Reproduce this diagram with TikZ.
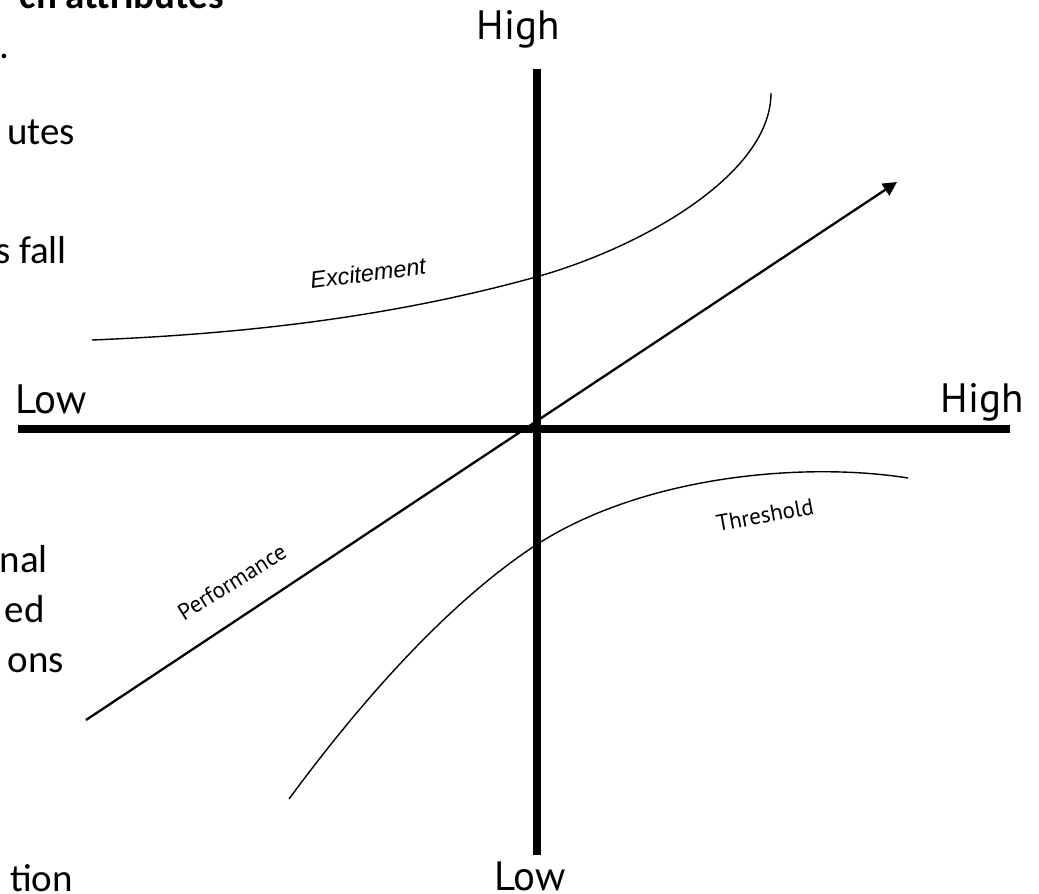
\documentclass[tikz,border=0pt]{standalone}
\usepackage{fontspec}
\setmainfont{PT Sans}
\newfontfamily\labfont{PT Sans}
\newfontfamily\itfont{Liberation Sans}
\newfontfamily\slidefont{Carlito}
\usetikzlibrary{arrows.meta}
\begin{document}
\begin{tikzpicture}[x=1pt,y=-1pt,
  axis/.style={line width=8pt,line cap=butt},
  curve/.style={line width=1.4pt},
  perf/.style={line width=2.3pt,-{Triangle[length=14pt,width=14pt]}},
  biglab/.style={inner sep=0pt,anchor=base,font=\labfont\fontsize{41}{41}\selectfont},
  smalllab/.style={inner sep=0pt,font=\labfont\fontsize{23}{23}\selectfont},
  itlab/.style={inner sep=0pt,font=\itfont\itshape\fontsize{23.5}{23.5}\selectfont},
  slide/.style={inner sep=0pt,anchor=base east,font=\slidefont\fontsize{39}{39}\selectfont}]
\useasboundingbox (0,0) rectangle (1039,894);
\clip (0,0) rectangle (1039,894);
% axes
\coordinate (xl) at (18,429);
\coordinate (xr) at (1010,429);
\coordinate (yt) at (536.5,69);
\coordinate (yb) at (536.5,855);
\draw[axis] (xl) -- (xr);
\draw[axis] (yt) -- (yb);
% axis labels
\node[biglab] (hightop) at (518,39) {High};
\node[biglab] (lowleft) at (51,413) {Low};
\node[biglab] (highright) at (982,412) {High};
\node[biglab] (lowbot) at (530,890) {Low};
% excitement curve
\coordinate (e0) at (92,340);
\coordinate (e1) at (536,277);
\coordinate (e2) at (771,93);
\draw[curve] (e0) .. controls (240,334) and (388,318) .. (e1)
  .. controls (640,248) and (771,175) .. (e2);
% threshold curve
\coordinate (t0) at (289,799);
\coordinate (t1) at (536,545);
\coordinate (t2) at (908,478);
\draw[curve] (t0) .. controls (359,704) and (446,604) .. (t1)
  .. controls (646,474) and (808,462) .. (t2);
% performance line
\coordinate (ps) at (86,720);
\coordinate (pe) at (897,182);
\draw[perf] (ps) -- (pe);
% curve labels
\node[itlab,rotate=7.5] (exc) at (368,273) {Excitement};
\node[smalllab,rotate=10.5] (thr) at (765,515) {Threshold};
\node[smalllab,rotate=32] (per) at (232,582) {Performance};
% clipped slide text on the left
\node[slide,font=\slidefont\bfseries\fontsize{39}{39}\selectfont] (t1) at (224,9) {ch attributes};
\node[slide] (s2) at (10,58) {.};
\node[slide] (s3) at (75,144) {utes};
\node[slide] (s4) at (67,263) {s fall};
\node[slide] (s5) at (48,572) {nal};
\node[slide] (s6) at (45,622) {ed};
\node[slide] (s7) at (64,672) {ons};
\node[slide] (s8) at (73,891) {tion};
\end{tikzpicture}
\end{document}
